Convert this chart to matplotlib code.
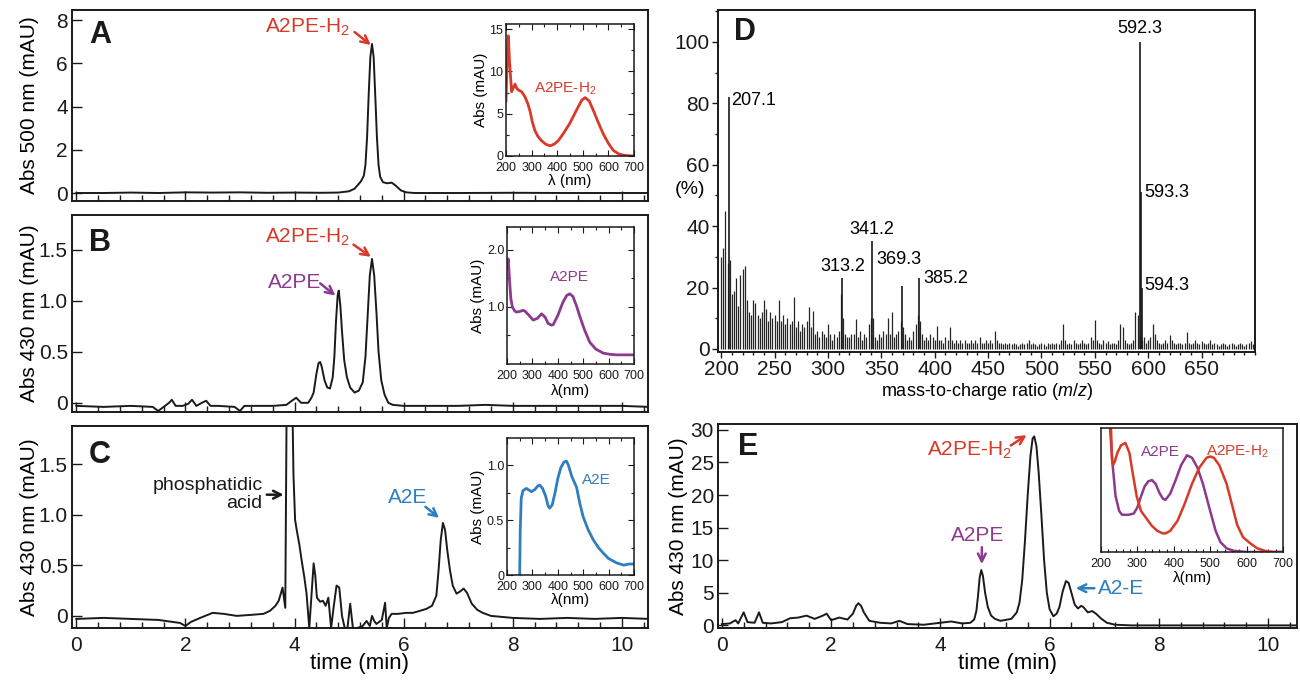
import matplotlib
matplotlib.use('Agg')
import matplotlib.pyplot as plt
from matplotlib.ticker import MultipleLocator, FixedLocator, NullLocator
from matplotlib import font_manager as fm

W, H = 1300, 684
plt.rcParams['font.family'] = ['Liberation Sans', 'DejaVu Sans']
plt.rcParams['mathtext.fontset'] = 'custom'
plt.rcParams['mathtext.rm'] = 'Liberation Sans'
plt.rcParams['mathtext.it'] = 'Liberation Sans:italic'
try:
    fm.findfont('Liberation Sans Narrow', fallback_to_default=False)
    NARROW = ['Liberation Sans Narrow', 'Liberation Sans', 'DejaVu Sans']
except Exception:
    NARROW = ['Liberation Sans', 'DejaVu Sans']

RED = '#d83a2a'
PURPLE = '#8c3a8e'
BLUE = '#2f7fc0'
INK = '#1a1a1a'

# ---------------- data ----------------
# Panel A chromatogram (time min, Abs 500 nm mAU)
a_trace = [(0, 0), (0.5, 0.0), (1.0, 0.02), (1.5, 0.0), (2.0, 0.03), (2.5, 0.02), (3.0, 0.03),
           (3.5, 0.01), (4.0, 0.02), (4.5, 0.01), (4.8, 0.02), (5.0, 0.08), (5.1, 0.2), (5.17, 0.4),
           (5.22, 0.55), (5.27, 0.8), (5.30, 1.3), (5.33, 2.6), (5.36, 4.6), (5.39, 6.3), (5.42, 6.9),
           (5.45, 6.3), (5.48, 4.5), (5.51, 2.6), (5.54, 1.3), (5.57, 0.75), (5.62, 0.5), (5.7, 0.45),
           (5.78, 0.48), (5.85, 0.35), (5.95, 0.12), (6.05, 0.03), (6.2, 0), (7, 0), (8, 0.01),
           (9, 0), (10.5, 0)]
# Panel B chromatogram (Abs 430 nm)
b_trace = [(0, -0.03), (0.5, -0.04), (1.0, -0.03), (1.4, -0.04), (1.5, -0.08), (1.6, -0.04),
           (1.7, 0.0), (1.75, 0.03), (1.82, -0.03), (1.95, -0.03), (2.05, -0.01), (2.12, 0.03),
           (2.2, -0.03), (2.3, 0.0), (2.38, 0.02), (2.46, -0.03), (2.6, -0.03), (2.9, -0.04),
           (3.0, -0.08), (3.08, -0.03), (3.2, -0.03), (3.6, -0.03), (3.85, -0.02), (3.95, 0.02),
           (4.03, 0.05), (4.12, 0.0), (4.25, 0.0), (4.31, 0.05), (4.35, 0.1), (4.4, 0.28),
           (4.44, 0.39), (4.47, 0.40), (4.5, 0.35), (4.55, 0.22), (4.6, 0.15), (4.65, 0.14),
           (4.7, 0.25), (4.73, 0.45), (4.76, 0.8), (4.79, 1.05), (4.81, 1.1), (4.84, 0.95),
           (4.87, 0.7), (4.91, 0.42), (4.96, 0.25), (5.02, 0.15), (5.1, 0.1), (5.18, 0.12),
           (5.25, 0.2), (5.3, 0.45), (5.34, 0.85), (5.38, 1.25), (5.42, 1.41), (5.46, 1.25),
           (5.5, 0.9), (5.54, 0.5), (5.59, 0.22), (5.65, 0.08), (5.72, 0.0), (5.8, -0.02),
           (6.0, -0.03), (6.5, -0.03), (7.0, -0.03), (7.5, -0.02), (8, -0.03), (8.5, -0.03),
           (9, -0.03), (9.5, -0.03), (10, -0.03), (10.5, -0.04)]
# Panel C chromatogram (Abs 430 nm)
c_trace = [(0, -0.03), (0.5, -0.02), (1.0, -0.03), (1.5, -0.04), (1.9, -0.07), (2.0, -0.1),
           (2.1, -0.06), (2.27, -0.02), (2.5, 0.03), (2.7, 0.02), (2.94, 0.0), (3.2, 0.01),
           (3.43, 0.02), (3.55, 0.05), (3.65, 0.1), (3.71, 0.15), (3.78, 0.28), (3.83, 0.08),
           (3.86, 2.5), (3.9, 3.0), (3.95, 2.5), (3.98, 1.4), (4.01, 0.95), (4.04, 0.85),
           (4.09, 0.7), (4.13, 0.55), (4.18, 0.38), (4.22, 0.22), (4.27, -0.12), (4.31, 0.2),
           (4.35, 0.52), (4.38, 0.4), (4.41, 0.18), (4.47, 0.14), (4.52, 0.15), (4.57, 0.1),
           (4.62, 0.18), (4.67, -0.12), (4.72, 0.1), (4.77, 0.3), (4.82, 0.28), (4.87, 0.0),
           (4.92, -0.12), (4.97, -0.12), (5.02, 0.12), (5.07, -0.12), (5.15, -0.12),
           (5.25, -0.1), (5.32, -0.05), (5.38, -0.1), (5.42, 0.0), (5.46, -0.05), (5.5, -0.08),
           (5.55, -0.06), (5.6, -0.04), (5.66, 0.13), (5.69, -0.12), (5.73, -0.02), (5.78, 0.02),
           (5.9, 0.02), (6.05, 0.03), (6.17, 0.03), (6.3, 0.05), (6.42, 0.07), (6.52, 0.1),
           (6.6, 0.2), (6.64, 0.45), (6.68, 0.75), (6.72, 0.92), (6.76, 0.85), (6.8, 0.65),
           (6.85, 0.45), (6.9, 0.3), (6.97, 0.22), (7.03, 0.24), (7.1, 0.27), (7.16, 0.23),
           (7.25, 0.12), (7.35, 0.06), (7.45, 0.03), (7.6, 0.0), (8.0, -0.02), (8.5, -0.03),
           (9.0, -0.02), (9.5, -0.03), (10.0, -0.02), (10.5, -0.03)]
# Panel E chromatogram (Abs 430 nm)
e_trace = [(0, 0.2), (0.15, 0.3), (0.25, 0.8), (0.3, 0.3), (0.4, 2.0), (0.47, 0.5), (0.6, 0.4),
           (0.68, 2.0), (0.75, 0.4), (0.9, 0.3), (1.1, 0.5), (1.25, 1.1), (1.4, 1.2), (1.55, 1.5),
           (1.7, 1.0), (1.85, 1.5), (1.92, 1.8), (2.0, 0.8), (2.15, 1.2), (2.3, 0.9), (2.4, 1.8),
           (2.46, 3.0), (2.5, 3.4), (2.55, 3.0), (2.6, 2.0), (2.7, 0.7), (2.9, 0.4), (3.1, 0.3),
           (3.25, 0.7), (3.4, 0.2), (3.7, 0.1), (4.0, 0.4), (4.2, 0.6), (4.4, 0.3), (4.55, 0.4),
           (4.62, 0.9), (4.66, 2.2), (4.69, 4.5), (4.72, 7.3), (4.75, 8.5), (4.78, 7.6), (4.82, 5.0),
           (4.87, 2.8), (4.93, 1.5), (5.0, 1.0), (5.1, 0.7), (5.3, 1.0), (5.4, 2.0), (5.45, 3.5),
           (5.5, 7.0), (5.55, 13.0), (5.6, 20.0), (5.65, 26.0), (5.69, 28.7), (5.72, 29.0),
           (5.76, 27.5), (5.8, 23.5), (5.85, 17.0), (5.9, 10.0), (5.95, 5.0), (6.0, 2.5),
           (6.07, 1.4), (6.13, 1.8), (6.18, 2.8), (6.24, 5.2), (6.3, 6.8), (6.35, 6.5), (6.4, 5.0),
           (6.46, 3.2), (6.52, 2.6), (6.58, 3.0), (6.62, 2.8), (6.7, 2.0), (6.78, 2.2), (6.85, 1.8),
           (6.95, 1.0), (7.05, 0.4), (7.2, 0.1), (7.5, 0.0), (8, 0.0), (9, 0.0), (10, 0.0),
           (10.5, 0.0)]

# Inset spectra (wavelength nm, Abs)
a_wl = [200, 205, 209, 214, 222, 228, 235, 242, 248, 261, 274, 285, 294, 303, 313, 325, 339, 355,
        372, 388, 404, 425, 450, 475, 496, 509, 525, 541, 560, 580, 600, 619, 640, 658, 680, 700]
a_sp = [6.5, 12, 14.2, 11, 7.6, 8.0, 8.5, 8.0, 7.8, 7.6, 7.0, 6.2, 5.3, 4.0, 3.0, 2.3, 1.8, 1.4,
        1.2, 1.4, 1.8, 2.7, 3.9, 5.4, 6.6, 6.9, 6.5, 5.4, 4.0, 2.6, 1.5, 0.66, 0.25, 0.1, 0.03, 0]
b_wl = [200, 205, 210, 215, 221, 230, 237, 250, 262, 270, 285, 303, 320, 336, 350, 362, 375, 382,
        400, 420, 435, 447, 460, 475, 487, 505, 526, 550, 579, 605, 632, 660, 697]
b_sp = [1.7, 1.84, 1.46, 1.15, 1.0, 0.93, 0.91, 0.92, 0.94, 0.93, 0.86, 0.77, 0.8, 0.88, 0.82,
        0.71, 0.68, 0.69, 0.85, 1.08, 1.2, 1.23, 1.18, 1.0, 0.83, 0.6, 0.38, 0.26, 0.19, 0.17,
        0.16, 0.16, 0.16]
c_wl = [250, 252, 256, 263, 276, 290, 296, 310, 320, 329, 340, 352, 362, 368, 378, 390, 400, 412,
        424, 434, 442, 455, 474, 487, 500, 520, 540, 560, 579, 600, 632, 660, 680, 700]
c_sp = [0, 0.4, 0.7, 0.77, 0.79, 0.77, 0.76, 0.78, 0.81, 0.82, 0.79, 0.72, 0.63, 0.61, 0.64, 0.76,
        0.88, 0.98, 1.03, 1.04, 1.0, 0.9, 0.8, 0.65, 0.53, 0.41, 0.32, 0.25, 0.2, 0.15, 0.11, 0.09,
        0.1, 0.1]
e_pe_wl = [222, 226, 232, 240, 250, 258, 275, 290, 300, 310, 320, 330, 340, 350, 360, 370, 377, 390,
           405, 420, 436, 450, 465, 480, 500, 515, 528, 545, 564, 600, 650, 700]
e_pe_sp = [1.1, 0.95, 0.7, 0.45, 0.33, 0.3, 0.3, 0.31, 0.36, 0.45, 0.53, 0.57, 0.58, 0.55, 0.48,
           0.43, 0.42, 0.47, 0.58, 0.7, 0.78, 0.76, 0.68, 0.55, 0.33, 0.17, 0.08, 0.03, 0.01, 0.0,
           0.0, 0.0]
e_h2_wl = [226, 228, 230, 233, 238, 245, 255, 267, 278, 288, 298, 310, 325, 340, 355, 370, 377, 390,
           410, 430, 450, 470, 490, 500, 510, 525, 545, 560, 574, 590, 610, 629, 650, 674, 700]
e_h2_sp = [1.1, 0.95, 0.75, 0.70, 0.73, 0.8, 0.86, 0.88, 0.8, 0.62, 0.45, 0.33, 0.27, 0.21, 0.17,
           0.15, 0.15, 0.17, 0.25, 0.39, 0.55, 0.68, 0.76, 0.77, 0.76, 0.7, 0.55, 0.38, 0.22, 0.12,
           0.07, 0.03, 0.01, 0.0, 0.0]

# Panel D mass spectrum: background ions every 2 m/z from 200 to 698 (%)
ms_mz = list(range(200, 700, 2))
ms_int = [30, 33, 45, 28, 29, 18, 19, 23, 14, 24,
          26, 27, 16, 12, 11, 16, 15, 11, 10, 12,
          16, 13, 9, 12, 10, 11, 9, 16, 9, 11,
          8, 10, 8, 9, 17, 7, 9, 6, 8, 7,
          9, 13.5, 7, 12.5, 5, 6, 4, 6, 5, 4,
          8, 5, 3, 5, 4, 6, 18, 10, 5, 4,
          4, 5, 5, 9.6, 4, 6, 3, 5, 4, 8,
          10, 10, 4, 3, 5, 4, 6, 5, 10, 5,
          12, 4, 5, 6, 9, 7, 5, 3, 4, 3,
          6, 8, 11, 9, 5, 3, 4, 3, 5, 4,
          3, 7.5, 3, 3, 2, 4, 3, 7, 3, 2,
          3, 2, 3, 2, 3, 2, 2, 3, 2, 3,
          2, 4, 2, 2, 3, 2, 3, 2, 6, 3,
          2, 2, 1.5, 2, 1.5, 2, 1.5, 2, 1.5, 1,
          1.5, 2, 1.5, 2, 3, 1.5, 2, 1.5, 1, 1.5,
          2, 1.5, 1, 2, 1.5, 2, 1.5, 2, 1.5, 3,
          8, 3, 1.5, 2, 1.5, 3, 2, 1.5, 2, 3,
          2, 1.5, 2, 4, 3, 9.5, 3, 2, 1.5, 3,
          2, 2.5, 1.5, 2, 2, 1.5, 3, 8, 7, 3,
          2, 1.5, 2, 3, 12, 11, 4, 3, 4, 2,
          3, 4, 8, 5, 3, 2, 1.5, 2, 3, 2,
          4.5, 3, 2, 1.5, 2, 2, 1.5, 2, 5.5, 2,
          1.5, 2, 3, 2, 1.5, 2.5, 2, 1.5, 2, 3,
          1.5, 2, 1.5, 1, 1.5, 2, 1.5, 1, 1.5, 2,
          1.5, 1, 1.5, 2, 1.5, 1, 1.5, 2, 2.5, 1.5]
# labelled ions
lab_mz = [207.1, 313.2, 341.2, 369.3, 385.2, 592.3, 593.3, 594.3]
lab_int = [82, 23, 35, 20.5, 23, 100, 51, 20]

# ---------------- figure ----------------
fig = plt.figure(figsize=(13, 6.84), dpi=100)


def px_axes(l, t, r, b):
    return fig.add_axes([l / W, 1 - b / H, (r - l) / W, (b - t) / H])


def frame(ax, lw=1.4):
    for s in ax.spines.values():
        s.set_linewidth(lw)
        s.set_color(INK)


def style_chrom(ax, show_x):
    ax.set_xlim(-0.08, 10.48)
    ax.xaxis.set_major_locator(MultipleLocator(2))
    ax.xaxis.set_minor_locator(MultipleLocator(0.4))
    ax.tick_params(which='both', direction='in', top=False, right=False,
                   labelsize=15, width=1.0, color=INK, labelcolor=INK)
    ax.tick_params(axis='x', pad=6)
    ax.tick_params(axis='y', pad=3)
    ax.tick_params(which='major', length=7)
    ax.tick_params(which='minor', length=4)
    ax.tick_params(axis='x', labelbottom=show_x)
    frame(ax)


def style_inset(ax):
    ax.tick_params(which='both', direction='in', top=True, right=True,
                   labelsize=9, width=0.8, color=INK, labelcolor=INK)
    ax.tick_params(axis='x', pad=4)
    ax.tick_params(axis='y', pad=2)
    ax.tick_params(which='major', length=4)
    ax.tick_params(which='minor', length=2)
    for lbl in ax.get_xticklabels() + ax.get_yticklabels():
        lbl.set_family(NARROW)
    frame(ax, 1.1)


def chrom_line(ax, trace):
    t, y = zip(*trace)
    ax.plot(t, y, color=INK, lw=1.4, solid_joinstyle='round')


def arrow(ax, start, end, color):
    ax.annotate('', xy=end, xytext=start,
                arrowprops=dict(arrowstyle='->', color=color, lw=1.8, mutation_scale=14,
                                shrinkA=0, shrinkB=0))


YLAB_X = -0.058

# ---- Panel A ----
axA = px_axes(72, 10, 648, 201)
chrom_line(axA, a_trace)
axA.set_ylim(-0.37, 8.47)
axA.yaxis.set_major_locator(FixedLocator([0, 2, 4, 6, 8]))
style_chrom(axA, False)
axA.set_ylabel('Abs 500 nm (mAU)', fontsize=15)
axA.yaxis.set_label_coords(YLAB_X, 0.5)
axA.text(0.049, 0.87, 'A', transform=axA.transAxes, fontsize=22, fontweight='bold',
         ha='center', va='center', color=INK)
axA.text(4.23, 7.67, 'A2PE-H$_2$', color=RED, fontsize=15, ha='center', va='center')
arrow(axA, (5.1, 7.45), (5.4, 6.85), RED)

# ---- Panel B ----
axB = px_axes(72, 215, 648, 412)
chrom_line(axB, b_trace)
axB.set_ylim(-0.09, 1.84)
axB.yaxis.set_major_locator(FixedLocator([0, 0.5, 1.0, 1.5]))
axB.set_yticklabels(['0', '0.5', '1.0', '1.5'])
style_chrom(axB, False)
axB.set_ylabel('Abs 430 nm (mAU)', fontsize=15)
axB.yaxis.set_label_coords(YLAB_X, 0.5)
axB.text(0.049, 0.858, 'B', transform=axB.transAxes, fontsize=22, fontweight='bold',
         ha='center', va='center', color=INK)
axB.text(4.23, 1.62, 'A2PE-H$_2$', color=RED, fontsize=15, ha='center', va='center')
arrow(axB, (5.08, 1.55), (5.4, 1.43), RED)
axB.text(4.01, 1.18, 'A2PE', color=PURPLE, fontsize=15, ha='center', va='center')
arrow(axB, (4.47, 1.17), (4.75, 1.05), PURPLE)

# ---- Panel C ----
axC = px_axes(72, 426, 648, 628)
chrom_line(axC, c_trace)
axC.set_ylim(-0.12, 1.88)
axC.yaxis.set_major_locator(FixedLocator([0, 0.5, 1.0, 1.5]))
axC.set_yticklabels(['0', '0.5', '1.0', '1.5'])
style_chrom(axC, True)
axC.set_ylabel('Abs 430 nm (mAU)', fontsize=15)
axC.yaxis.set_label_coords(YLAB_X, 0.5)
axC.set_xlabel('time (min)', fontsize=16)
axC.xaxis.set_label_coords(0.5, -0.125)
axC.text(0.049, 0.856, 'C', transform=axC.transAxes, fontsize=22, fontweight='bold',
         ha='center', va='center', color=INK)
axC.text(3.41, 1.2, 'phosphatidic\nacid', color=INK, fontsize=14, ha='right', va='center',
         multialignment='right', linespacing=1.05)
arrow(axC, (3.49, 1.2), (3.8, 1.2), INK)
axC.text(6.07, 1.17, 'A2E', color=BLUE, fontsize=15, ha='center', va='center')
arrow(axC, (6.4, 1.08), (6.65, 0.97), BLUE)

# ---- Panel D ----
axD = px_axes(718, 10, 1255, 352)
axD.vlines(ms_mz, 0, ms_int, color='#262626', lw=0.9)
axD.vlines(lab_mz, 0, lab_int, color=INK, lw=1.2)
axD.set_xlim(197, 700)
axD.set_ylim(-1, 110.4)
axD.xaxis.set_major_locator(FixedLocator([200, 250, 300, 350, 400, 450, 500, 550, 600, 650]))
axD.xaxis.set_minor_locator(MultipleLocator(10))
axD.yaxis.set_major_locator(FixedLocator([0, 20, 40, 60, 80, 100]))
axD.yaxis.set_minor_locator(MultipleLocator(10))
axD.tick_params(which='both', direction='out', top=False, right=False, labelsize=15,
                width=1.0, color=INK, labelcolor=INK, pad=2)
axD.tick_params(which='major', length=4)
axD.tick_params(which='minor', length=2.5)
frame(axD)
axD.set_xlabel('mass-to-charge ratio ($m/z$)', fontsize=13)
axD.xaxis.set_label_coords(0.5, -0.085)
axD.text(-0.052, 0.474, '(%)', transform=axD.transAxes, fontsize=14, ha='center', va='center')
axD.text(0.05, 0.935, 'D', transform=axD.transAxes, fontsize=22, fontweight='bold',
         ha='center', va='center', color=INK)
lab_fs = 13
axD.text(209, 81, '207.1', fontsize=lab_fs, ha='left', va='center')
axD.text(592.3, 101.5, '592.3', fontsize=lab_fs, ha='center', va='bottom')
axD.text(596.5, 51, '593.3', fontsize=lab_fs, ha='left', va='center')
axD.text(596.5, 20.8, '594.3', fontsize=lab_fs, ha='left', va='center')
axD.text(341.2, 38.8, '341.2', fontsize=lab_fs, ha='center', va='center')
axD.text(313.6, 26.8, '313.2', fontsize=lab_fs, ha='center', va='center')
axD.text(366.4, 29, '369.3', fontsize=lab_fs, ha='center', va='center')
axD.text(389.6, 23, '385.2', fontsize=lab_fs, ha='left', va='center')

# ---- Panel E ----
axE = px_axes(718, 424, 1297, 628)
chrom_line(axE, e_trace)
axE.set_ylim(-0.4, 30.9)
axE.yaxis.set_major_locator(FixedLocator([0, 5, 10, 15, 20, 25, 30]))
style_chrom(axE, True)
axE.set_xlim(-0.07, 10.53)
axE.set_ylabel('Abs 430 nm (mAU)', fontsize=15)
axE.yaxis.set_label_coords(-0.052, 0.5)
axE.set_xlabel('time (min)', fontsize=16)
axE.xaxis.set_label_coords(0.5, -0.125)
axE.text(0.052, 0.887, 'E', transform=axE.transAxes, fontsize=22, fontweight='bold',
         ha='center', va='center', color=INK)
axE.text(4.54, 26.9, 'A2PE-H$_2$', color=RED, fontsize=15, ha='center', va='center')
arrow(axE, (5.29, 27.6), (5.58, 29.2), RED)
axE.text(4.69, 13.8, 'A2PE', color=PURPLE, fontsize=15, ha='center', va='center')
arrow(axE, (4.76, 12.0), (4.76, 9.4), PURPLE)
axE.text(6.89, 5.7, 'A2-E', color=BLUE, fontsize=15, ha='left', va='center')
arrow(axE, (6.82, 5.7), (6.48, 5.7), BLUE)

# ---- Insets ----
iA = px_axes(506, 24, 634, 156)
iA.plot(a_wl, a_sp, color=RED, lw=2.0)
iA.set_xlim(200, 700)
iA.set_ylim(0, 15.6)
iA.xaxis.set_major_locator(MultipleLocator(100))
iA.xaxis.set_minor_locator(MultipleLocator(50))
iA.yaxis.set_major_locator(FixedLocator([0, 5, 10, 15]))
iA.yaxis.set_minor_locator(MultipleLocator(2.5))
style_inset(iA)
iA.set_ylabel('Abs (mAU)', fontsize=11, labelpad=1)
iA.set_xlabel('λ (nm)', fontsize=11, labelpad=0)
iA.text(430, 8.0, 'A2PE-H$_2$', color=RED, fontsize=11, ha='center', va='center',
        family=NARROW)

iB = px_axes(507, 227, 634, 364)
iB.plot(b_wl, b_sp, color=PURPLE, lw=2.0)
iB.set_xlim(200, 700)
iB.set_ylim(0, 2.4)
iB.xaxis.set_major_locator(MultipleLocator(100))
iB.xaxis.set_minor_locator(MultipleLocator(50))
iB.yaxis.set_major_locator(FixedLocator([1.0, 2.0]))
iB.set_yticklabels(['1.0', '2.0'])
iB.yaxis.set_minor_locator(FixedLocator([0.5, 1.5]))
style_inset(iB)
iB.set_ylabel('Abs (mAU)', fontsize=11, labelpad=1)
iB.set_xlabel('λ(nm)', fontsize=11, labelpad=2)
iB.text(447, 1.52, 'A2PE', color=PURPLE, fontsize=11, ha='center', va='center', family=NARROW)

iC = px_axes(507, 438, 634, 575)
iC.plot(c_wl, c_sp, color=BLUE, lw=2.0)
iC.set_xlim(200, 700)
iC.set_ylim(0, 1.25)
iC.xaxis.set_major_locator(MultipleLocator(100))
iC.xaxis.set_minor_locator(MultipleLocator(50))
iC.yaxis.set_major_locator(FixedLocator([0, 0.5, 1.0]))
iC.set_yticklabels(['0', '0.5', '1.0'])
iC.yaxis.set_minor_locator(FixedLocator([0.25, 0.75]))
style_inset(iC)
iC.set_ylabel('Abs (mAU)', fontsize=11, labelpad=1)
iC.set_xlabel('λ(nm)', fontsize=11, labelpad=0)
iC.text(553, 0.87, 'A2E', color=BLUE, fontsize=11, ha='center', va='center', family=NARROW)

iE = px_axes(1101, 428, 1283, 552)
iE.plot(e_pe_wl, e_pe_sp, color=PURPLE, lw=1.8)
iE.plot(e_h2_wl, e_h2_sp, color=RED, lw=1.8)
iE.set_xlim(200, 700)
iE.set_ylim(0, 1.0)
iE.xaxis.set_major_locator(MultipleLocator(100))
iE.xaxis.set_minor_locator(MultipleLocator(20))
iE.yaxis.set_major_locator(NullLocator())
style_inset(iE)
iE.tick_params(axis='x', which='both', top=False)
iE.set_xlabel('λ(nm)', fontsize=11, labelpad=1)
iE.text(363, 0.81, 'A2PE', color=PURPLE, fontsize=11, ha='center', va='center', family=NARROW)
iE.text(574, 0.81, 'A2PE-H$_2$', color=RED, fontsize=11, ha='center', va='center', family=NARROW)

fig.savefig('out.png', dpi=100)
